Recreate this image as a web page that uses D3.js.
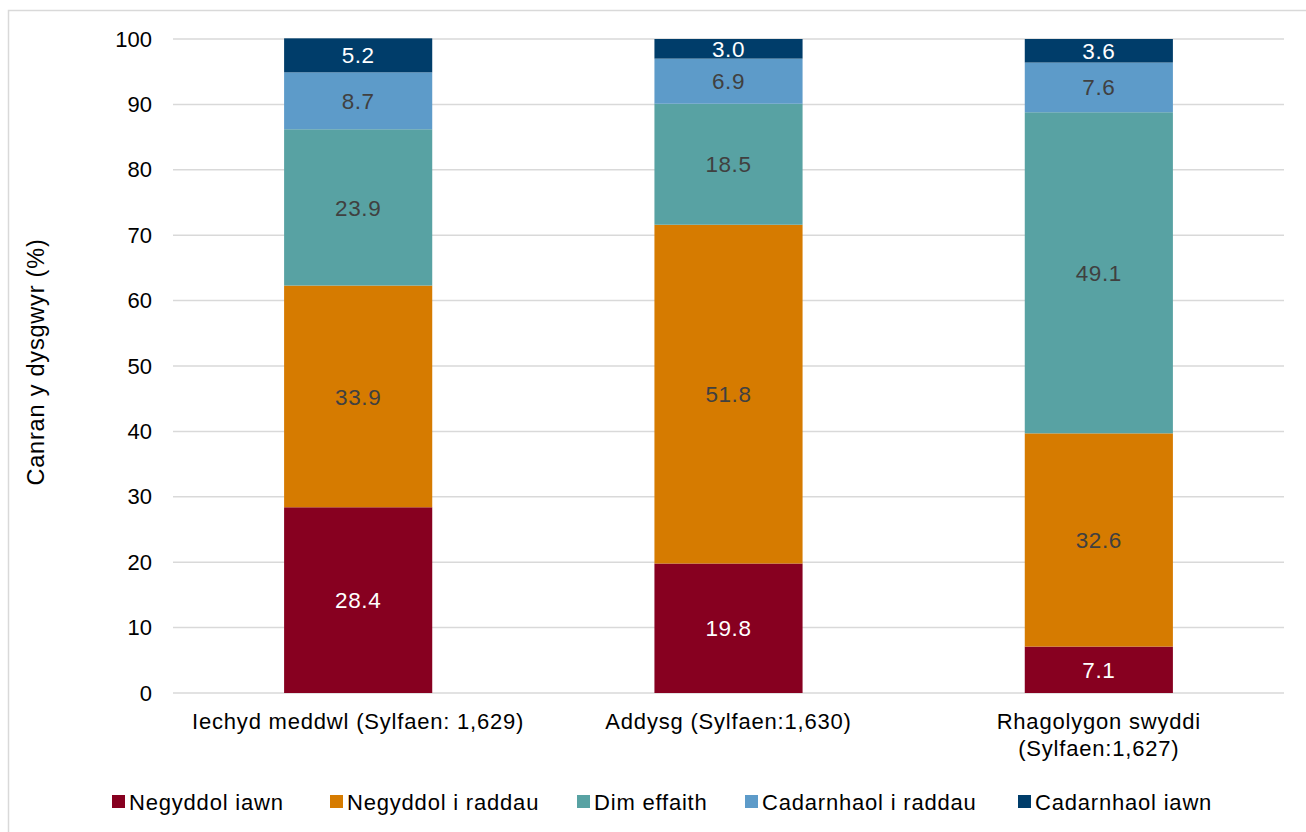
<!DOCTYPE html>
<html><head><meta charset="utf-8">
<script src="https://cdn.jsdelivr.net/npm/d3@7"></script>
<style>body{margin:0;background:#fff;}svg{display:block;font-family:"Liberation Sans",Arial,sans-serif;}</style>
</head><body>
<svg id="c" width="1306" height="832"></svg>
<script>
const categories = [["Iechyd meddwl (Sylfaen: 1,629)"], ["Addysg (Sylfaen:1,630)"], ["Rhagolygon swyddi", "(Sylfaen:1,627)"]];
const seriesNames = ["Negyddol iawn", "Negyddol i raddau", "Dim effaith", "Cadarnhaol i raddau", "Cadarnhaol iawn"];
const negyddolIawn = [28.4, 19.8, 7.1];
const negyddolIRaddau = [33.9, 51.8, 32.6];
const dimEffaith = [23.9, 18.5, 49.1];
const cadarnhaolIRaddau = [8.7, 6.9, 7.6];
const cadarnhaolIawn = [5.2, 3.0, 3.6];
const yTicks = [0,10,20,30,40,50,60,70,80,90,100];
const colors = ["#870020", "#D67B00", "#58A2A3", "#5D9BC9", "#003D6A"];
const labelColors = ["#ffffff", "#404040", "#404040", "#404040", "#ffffff"];

const series = [negyddolIawn, negyddolIRaddau, dimEffaith, cadarnhaolIRaddau, cadarnhaolIawn];
const svg = d3.select("#c");
svg.append("rect").attr("x",8.5).attr("y",10.5).attr("width",1320).attr("height",840)
  .attr("fill","none").attr("stroke","#d9d9d9").attr("stroke-width",1.5);

const pL = 173, pR = 1284, pT = 39, pB = 693;
const x = d3.scaleBand().domain(d3.range(categories.length)).range([pL, pR]).paddingInner(0.6).paddingOuter(0.3);
const y = d3.scaleLinear().domain([0,100]).range([pB, pT]);

const g = svg.append("g");
g.selectAll("line.grid").data(yTicks).join("line")
  .attr("x1", pL).attr("x2", pR)
  .attr("y1", d=>y(d)).attr("y2", d=>y(d))
  .attr("stroke", "#d9d9d9").attr("stroke-width", 1.5);

const yAxis = d3.axisLeft(y).tickValues(yTicks).tickSize(0).tickPadding(0);
const ya = svg.append("g").attr("transform", `translate(152,0)`).call(yAxis);
ya.select(".domain").remove();
ya.selectAll("text").attr("font-size", 22).attr("fill", "#000").attr("font-family","Liberation Sans, Arial, sans-serif");

const stackData = categories.map((c,i)=>{ const o={i}; series.forEach((s,k)=>o[k]=s[i]); return o; });
const stack = d3.stack().keys(d3.range(series.length))(stackData);
stack.forEach((layer,k)=>{
  const lg = svg.append("g");
  lg.selectAll("rect").data(layer).join("rect")
    .attr("x", d=>x(d.data.i)).attr("width", x.bandwidth())
    .attr("y", d=>y(d[1])).attr("height", d=>y(d[0])-y(d[1]))
    .attr("fill", colors[k]);
  lg.selectAll("text").data(layer).join("text")
    .attr("x", d=>x(d.data.i)+x.bandwidth()/2)
    .attr("y", d=>(y(d[0])+y(d[1]))/2)
    .attr("dy","0.36em")
    .attr("text-anchor","middle").attr("font-size",22.5).attr("letter-spacing",0.6)
    .attr("fill", labelColors[k])
    .text(d=>d3.format(".1f")(d[1]-d[0]));
});

const xl = svg.append("g");
categories.forEach((lines,i)=>{
  const t = xl.append("text").attr("x", x(i)+x.bandwidth()/2).attr("y", 729)
    .attr("text-anchor","middle").attr("font-size",22).attr("letter-spacing",0.8).attr("fill","#000");
  lines.forEach((ln,j)=>t.append("tspan").attr("x", x(i)+x.bandwidth()/2).attr("dy", j===0?0:27).text(ln));
});

svg.append("text").attr("transform","translate(44,362) rotate(-90)")
  .attr("text-anchor","middle").attr("font-size",23.5).attr("letter-spacing",0.8).attr("fill","#000").text("Canran y dysgwyr (%)");

const legendX = [112, 330, 577, 745, 1018];
const lgd = svg.append("g");
seriesNames.forEach((n,k)=>{
  lgd.append("rect").attr("x",legendX[k]).attr("y",795).attr("width",13).attr("height",13).attr("fill",colors[k]);
  lgd.append("text").attr("x",legendX[k]+17).attr("y",802).attr("dy","0.36em").attr("font-size",22).attr("letter-spacing",0.8).attr("fill","#000").text(n);
});
</script>
</body></html>
